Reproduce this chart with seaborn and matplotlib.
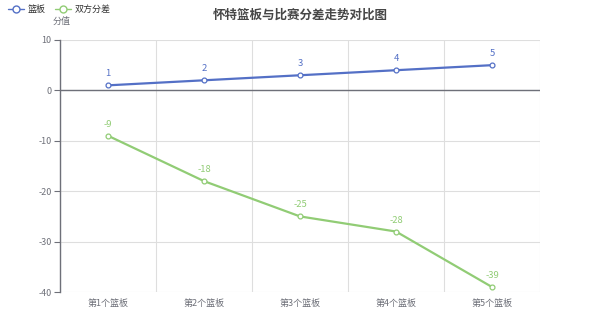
import matplotlib
matplotlib.use("Agg")
import matplotlib.pyplot as plt
import seaborn as sns
import pandas as pd
import numpy as np
from matplotlib.lines import Line2D

categories = ["第1个篮板", "第2个篮板", "第3个篮板", "第4个篮板", "第5个篮板"]
rebounds = [1, 2, 3, 4, 5]
diff = [-9, -18, -25, -28, -39]
series_names = ["篮板", "双方分差"]
title = "怀特篮板与比赛分差走势对比图"
y_label = "分值"

sns.set_theme(style="white")
plt.rcParams['font.family'] = ['Noto Sans CJK SC', 'DejaVu Sans']
plt.rcParams['axes.unicode_minus'] = False

blue = "#5470c6"
green = "#91cc75"

df = pd.DataFrame({
    "cat": categories * 2,
    "val": rebounds + diff,
    "series": [series_names[0]] * 5 + [series_names[1]] * 5,
})

fig = plt.figure(figsize=(6, 3.33), dpi=100)
ax = fig.add_axes([0.1, 0.123, 0.8, 0.757])

sns.lineplot(data=df, x="cat", y="val", hue="series", palette=[blue, green],
             marker="o", markersize=3.5, markerfacecolor="white", markeredgewidth=0.9,
             linewidth=1.6, ax=ax, legend=False, sort=False)
for line, c in zip(ax.lines, [blue, green]):
    line.set_markeredgecolor(c)

ax.set_xlim(-0.5, 4.5)
ax.set_ylim(-40, 10)
ax.set_yticks([10, 0, -10, -20, -30, -40])
ax.set_xticks(range(5))
ax.set_xticklabels(categories)
ax.set_xticks(np.arange(-0.5, 5, 1), minor=True)
ax.grid(True, axis="y", which="major", color="#dedede", linewidth=0.8)
ax.grid(True, axis="x", which="minor", color="#dedede", linewidth=0.8)
ax.grid(False, axis="x", which="major")
ax.axhline(0, color="#6e7079", linewidth=1, zorder=1.5)
for s in ["top", "right", "bottom"]:
    ax.spines[s].set_visible(False)
ax.spines["left"].set_color("#6e7079")
ax.spines["left"].set_linewidth(1)
ax.tick_params(axis="y", which="major", length=4, width=0.8, color="#6e7079",
               labelsize=6.5, labelcolor="#6e7079", left=True, pad=2)
ax.tick_params(axis="x", which="both", length=0, labelsize=6.5, labelcolor="#6e7079", pad=5)
ax.set_xlabel("")
ax.set_ylabel("")

for i, v in enumerate(rebounds):
    ax.annotate(str(v), (i, v), xytext=(0, 5), textcoords="offset points",
                ha="center", va="bottom", fontsize=6.8, color=blue)
for i, v in enumerate(diff):
    ax.annotate(str(v), (i, v), xytext=(0, 5), textcoords="offset points",
                ha="center", va="bottom", fontsize=6.8, color=green)

fig.text(0.5, 0.975, title, ha="center", va="top", fontsize=9, fontweight="bold", color="#464646")
fig.text(0.087, 0.935, y_label, ha="left", va="center", fontsize=6.5, color="#6e7079")

handles = [Line2D([0], [0], color=blue, marker="o", markerfacecolor="white", markersize=5, linewidth=1),
           Line2D([0], [0], color=green, marker="o", markerfacecolor="white", markersize=5, linewidth=1)]
fig.legend(handles, series_names, loc="upper left", bbox_to_anchor=(0.0, 1.01), ncol=2, frameon=False,
           fontsize=6.5, labelcolor="#333333", handlelength=1.8, columnspacing=1.0, handletextpad=0.4)

fig.savefig("out.png", dpi=100)
